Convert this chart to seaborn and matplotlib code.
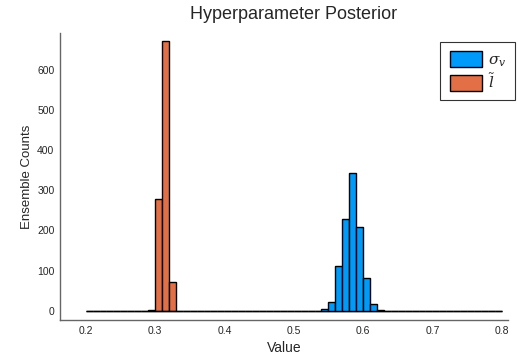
#!/usr/bin/env python3

import numpy as np                  # for arrays
import pandas as pd                 # for the long table seaborn wants
import matplotlib
matplotlib.use('Agg')
import matplotlib.pyplot as plt     # for plots
import seaborn as sns               # for the histogram

# bins run from 0.2 to 0.8, width 0.01
bin_lo = 0.2
bin_hi = 0.8
n_bins = 60

# sigma_v posterior: bin centres and counts
sigma_v_centres = [0.545, 0.555, 0.565, 0.575, 0.585, 0.595, 0.605, 0.615, 0.625]
sigma_v_counts = [4, 21, 112, 229, 342, 208, 81, 18, 2]

# l tilde posterior
l_centres = [0.295, 0.305, 0.315, 0.325]
l_counts = [3, 278, 672, 71]

series_labels = ['$\\sigma_v$', '$\\tilde{l}$']
series_colours = ['#009AFA', '#E26F46']


def makeTable():
    # one row per bin centre, weighted by its count
    rows = []
    for c, n in zip(sigma_v_centres, sigma_v_counts):
        rows.append({'value': c, 'count': n, 'param': series_labels[0]})
    for c, n in zip(l_centres, l_counts):
        rows.append({'value': c, 'count': n, 'param': series_labels[1]})
    return pd.DataFrame(rows)


def plot():
    sns.set_style('white')
    plt.rcParams['font.family'] = ['Liberation Sans', 'DejaVu Sans']
    plt.rcParams['mathtext.fontset'] = 'dejavuserif'

    fig = plt.figure(figsize=(5.18, 3.58), dpi=100)
    ax = fig.add_axes([60 / 518, 38 / 358, 448 / 518, 287 / 358])

    df = makeTable()

    sns.histplot(data=df, x='value', weights='count', hue='param',
                 hue_order=series_labels, palette=series_colours,
                 bins=n_bins, binrange=(bin_lo, bin_hi),
                 multiple='layer', element='bars', alpha=1.0,
                 edgecolor='black', linewidth=1.0, ax=ax)

    ax.set_xlim(0.163, 0.809)
    ax.set_ylim(-23, 692)
    ax.set_xticks([0.2, 0.3, 0.4, 0.5, 0.6, 0.7, 0.8])
    ax.set_xticklabels(['0.2', '0.3', '0.4', '0.5', '0.6', '0.7', '0.8'])
    ax.set_yticks([0, 100, 200, 300, 400, 500, 600])

    # title sits a bit right of the axes centre in the original
    ax.set_title('Hyperparameter Posterior', fontsize=13, pad=10, x=0.522)
    ax.set_xlabel('Value', fontsize=10)
    ax.set_ylabel('Ensemble Counts', fontsize=9.5, labelpad=3)

    # julia-ish frame: left and bottom only, ticks pointing in
    for side in ['top', 'right']:
        ax.spines[side].set_visible(False)
    for side in ['left', 'bottom']:
        ax.spines[side].set_color('#666666')
        ax.spines[side].set_linewidth(1.0)
    ax.tick_params(direction='in', length=3, width=0.8, color='#555555',
                   labelsize=7.5, pad=4)

    sns.move_legend(ax, 'upper right', bbox_to_anchor=(1.016, 0.969),
                    title=None, frameon=True, fontsize=11, borderaxespad=0,
                    fancybox=False, edgecolor='black', borderpad=0.6,
                    handlelength=2.1, handleheight=1.25, labelspacing=0.25,
                    handletextpad=0.4)
    leg = ax.get_legend()
    leg.get_frame().set_linewidth(0.8)
    for h in leg.legend_handles:
        h.set_edgecolor('black')

    fig.savefig('out.png', dpi=100)


if __name__ == "__main__":
    plot()
